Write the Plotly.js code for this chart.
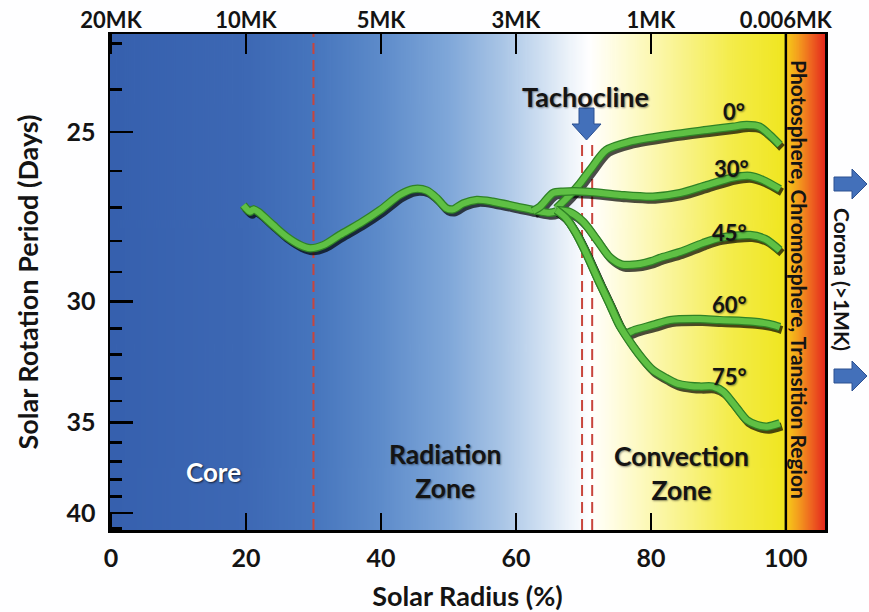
<!DOCTYPE html>
<html><head><meta charset="utf-8">
<script src="https://cdn.plot.ly/plotly-3.0.1.min.js"></script>
<style>html,body{margin:0;padding:0;background:#fff}#chart{width:869px;height:612px}</style>
</head><body><div id="chart"></div>
<script>
// ---------- data (x = solar radius %, P = rotation period in days) ----------
const coreX = [19.6,20.6,21.1,21.8,24.0,26.0,28.0,29.5,31.5,33.9,36.9,39.9,42.8,44.8,46.8,48.3,49.7,50.7,52.2,54.2,56.6,60.1,62.6,65.0,66.0];
const coreP = [26.94,27.13,27.06,27.13,27.52,27.87,28.13,28.23,28.13,27.82,27.47,27.08,26.65,26.49,26.53,26.75,27.03,27.06,26.89,26.79,26.84,26.98,27.08,27.16,27.12];

const lat0X = [66.0,68.0,69.5,71.0,73.4,76.9,82.8,88.3,92.2,94.2,96.1,97.6,99.1];
const lat0P = [27.03,26.65,26.33,25.97,25.45,25.24,25.07,24.95,24.87,24.83,24.87,25.07,25.32];

const lat30X = [62.5,63.6,65.5,67.0,70.5,75.4,80.3,84.3,88.3,92.2,94.7,96.6,99.1];
const lat30P = [27.11,26.98,26.60,26.56,26.56,26.65,26.70,26.60,26.38,26.17,26.13,26.24,26.49];

const lat45X = [66.0,68.0,70.0,72.0,73.9,75.7,78.4,80.1,81.3,84.3,87.7,90.2,94.7,96.9,99.1];
const lat45P = [27.08,27.14,27.43,27.97,28.51,28.75,28.73,28.64,28.54,28.35,28.07,27.91,27.82,27.94,28.29];

const lat60X = [66.0,67.4,68.9,70.2,72.4,73.9,75.4,76.3,77.6,80.3,82.8,87.3,90.2,95.2,97.6,99.1];
const lat60P = [27.08,27.31,27.76,28.29,29.36,30.10,30.90,31.17,31.05,30.86,30.68,30.64,30.68,30.74,30.83,30.94];

const lat75X = [66.0,67.4,68.9,70.2,72.4,73.9,75.4,77.4,78.9,80.3,82.3,83.8,85.8,87.3,89.2,90.7,92.2,94.2,95.7,97.2,99.1];
const lat75P = [27.08,27.31,27.76,28.29,29.36,30.10,30.90,31.70,32.23,32.65,33.00,33.22,33.33,33.36,33.36,33.58,34.11,34.89,35.13,35.21,35.05];

const latLabels = ['0°','30°','45°','60°','75°'];
const xTickVals = [0,20,40,60,80,100];
const xTickText = ['0','20','40','60','80','100'];
const tempTickText = ['20MK','10MK','5MK','3MK','1MK','0.006MK'];
const periodMajor = [25,30,35,40];
const periodMinor = [23,24,26,27,28,29,31,32,33,34,36,37,38,39,41];
const coreBoundary = 30;
const tachocline = [69.8,71.3];
const surface = 100;
const periodRange = [41.1,22.8];   // bottom, top (axis is linear in 1/period)
const radiusRange = [-0.15,105.8];

// ---------- layout geometry ----------
const W = 869, H = 612, ML = 110, MR = 44, MT = 34, MB = 82;
const PW = W-ML-MR, PH = H-MT-MB;
const yR = [1/periodRange[0], 1/periodRange[1]];
const xSpan = radiusRange[1]-radiusRange[0], ySpan = yR[1]-yR[0];
const sdx = 2.2*xSpan/PW, sdy = 3*ySpan/PH;   // shadow offset
const px = v => (v-ML)/PW, py = v => (H-MB-v)/PH;

function gradient(stops){
  const c=document.createElement('canvas'); c.width=1200; c.height=4;
  const g=c.getContext('2d'); const lg=g.createLinearGradient(0,0,1200,0);
  stops.forEach(s=>lg.addColorStop(s[0],s[1])); g.fillStyle=lg; g.fillRect(0,0,1200,4);
  return c.toDataURL('image/png');
}
const bgMain = gradient([[0,'#3660ae'],[0.2,'#3d68b4'],[0.3,'#4675bd'],[0.4,'#5d8bca'],[0.5,'#7fa7d9'],[0.58,'#a9c5e6'],[0.64,'#d0e0f2'],[0.68,'#edf3fa'],[0.71,'#ffffff'],[0.74,'#fffde6'],[0.8,'#fcf8b3'],[0.86,'#f8f27f'],[0.92,'#f4ec4a'],[1,'#f0e61f']]);
const bgBand = gradient([[0,'#f6cc18'],[0.3,'#f4a01d'],[0.65,'#ee6420'],[1,'#e4281d']]);

const FONT = 'Lato, "Open Sans", sans-serif';
const series = [[coreX,coreP],[lat0X,lat0P],[lat30X,lat30P],[lat45X,lat45P],[lat60X,lat60P],[lat75X,lat75P]];
const traces = [];
series.forEach(s=>{
  traces.push({x:s[0], y:s[1].map(p=>1/p), xaxis:'x2', yaxis:'y2', mode:'lines',
    line:{color:'rgba(0,0,0,0.7)', width:8, shape:'spline', smoothing:0.8}, hoverinfo:'skip', showlegend:false});
});
series.forEach(s=>{
  const yy = s[1].map(p=>1/p);
  traces.push({x:s[0], y:yy, xaxis:'x3', yaxis:'y3', mode:'lines',
    line:{color:'#2f8226', width:8.5, shape:'spline', smoothing:0.8}, hoverinfo:'skip', showlegend:false});
  traces.push({x:s[0], y:yy, xaxis:'x3', yaxis:'y3', mode:'lines',
    line:{color:'#5fc044', width:6, shape:'spline', smoothing:0.8}, hoverinfo:'skip', showlegend:false});
});

const dashColor = '#c8453c';
const shapes = [
  {type:'line', xref:'x', yref:'paper', x0:coreBoundary, x1:coreBoundary, y0:0, y1:1, layer:'below', line:{color:dashColor, width:2, dash:'11px,6px'}},
  ...tachocline.map(v=>({type:'line', xref:'x', yref:'paper', x0:v, x1:v, y0:0, y1:py(141), layer:'below', line:{color:dashColor, width:2, dash:'11px,6px'}})),
  {type:'line', xref:'x', yref:'paper', x0:surface, x1:surface, y0:0, y1:1, layer:'above', line:{color:'#000', width:2.5}},
];
function arrowPath(pts){ return 'M'+pts.map(p=>px(p[0])+','+py(p[1])).join(' L')+' Z'; }
const blue = '#4370ba', blueEdge = '#2c5191';
shapes.push({type:'path', xref:'paper', yref:'paper', layer:'above', fillcolor:blue, line:{color:blueEdge,width:1},
  path: arrowPath([[579,108],[594,108],[594,124],[601,124],[586.5,140],[572,124],[579,124]])});
[184,376].forEach(cy=>{
  shapes.push({type:'path', xref:'paper', yref:'paper', layer:'above', fillcolor:blue, line:{color:blueEdge,width:1},
    path: arrowPath([[834,cy-7],[852,cy-7],[852,cy-15],[867,cy],[852,cy+15],[852,cy+7],[834,cy+7]])});
});

const dark = '#141414';
const sh = '1px 1px 2px rgba(0,0,0,0.45)';
const ann = (t,x,y,size,opts={}) => Object.assign({text:t, xref:'paper', yref:'paper', x:px(x), y:py(y), showarrow:false,
  xanchor:'center', yanchor:'middle', font:{family:FONT, size:size, weight:700, color:dark, shadow:sh}}, opts);
const annotations = [
  ann('Core',213,472,26,{font:{family:FONT,size:26,weight:700,color:'#ffffff',shadow:'1px 1px 2px rgba(0,0,0,0.7)'}}),
  ann('Radiation<br>Zone',445,471,26.5,{}),
  ann('Convection<br>Zone',681,473,26.5,{}),
  ann('Tachocline',585,96,27,{}),
  ann(latLabels[0],734,112,22),
  ann(latLabels[1],731,168,22),
  ann(latLabels[2],729,232,22),
  ann(latLabels[3],729,304,22),
  ann(latLabels[4],729,376,22),
  ann('Photosphere, Chromosphere, Transition Region',800,279,21,{textangle:90, font:{family:FONT,size:21,weight:700,color:dark}}),
  ann('Corona (>1MK)',843,279,21,{textangle:90, font:{family:FONT,size:21,weight:700,color:dark}}),
];
annotations.forEach(a=>{a.borderpad=0;});

const tickFont = {family:FONT, size:25, weight:700, color:dark};
const topFont = {family:FONT, size:22, weight:700, color:dark};
const titleFont = {family:FONT, size:27, weight:700, color:dark};
const layout = {
  width:W, height:H, margin:{l:ML, r:MR, t:MT, b:MB}, paper_bgcolor:'#fefeff', plot_bgcolor:'rgba(0,0,0,0)',
  hovermode:false, showlegend:false,
  xaxis:{range:radiusRange, tickmode:'array', tickvals:xTickVals, ticktext:xTickText, ticks:'inside', ticklen:17, tickwidth:2.5, tickcolor:'#000',
    showline:true, linewidth:2.5, linecolor:'#000', mirror:true, showgrid:false, zeroline:false, tickfont:tickFont, ticklabelstandoff:4,
    title:{text:'Solar Radius (%)', font:titleFont, standoff:18}},
  yaxis:{range:yR, tickmode:'array', tickvals:periodMajor.map(p=>1/p), ticktext:periodMajor.map(String), ticks:'inside', ticklen:23, tickwidth:2.5, tickcolor:'#000',
    minor:{tickmode:'array', tickvals:periodMinor.map(p=>1/p), ticks:'inside', ticklen:12, tickwidth:2.5, tickcolor:'#000', showgrid:false},
    showline:true, linewidth:2.5, linecolor:'#000', mirror:true, showgrid:false, zeroline:false, tickfont:tickFont, ticklabelstandoff:7,
    title:{text:'Solar Rotation Period (Days)', font:titleFont, standoff:20}},
  xaxis2:{range:[radiusRange[0]-sdx, radiusRange[1]-sdx], overlaying:'x', visible:false},
  yaxis2:{range:[yR[0]+sdy, yR[1]+sdy], overlaying:'y', visible:false},
  xaxis3:{range:radiusRange, overlaying:'x', side:'top', anchor:'y3', tickmode:'array', tickvals:xTickVals, ticktext:tempTickText,
    ticks:'inside', ticklen:20, tickwidth:2.5, tickcolor:'#000', showline:false, showgrid:false, zeroline:false, tickfont:topFont, ticklabelstandoff:1},
  yaxis3:{range:yR, overlaying:'y', visible:false},
  images:[
    {source:bgMain, xref:'x', yref:'paper', x:radiusRange[0], y:1, sizex:surface-radiusRange[0], sizey:1, sizing:'stretch', xanchor:'left', yanchor:'top', layer:'below'},
    {source:bgBand, xref:'x', yref:'paper', x:surface, y:1, sizex:radiusRange[1]-surface, sizey:1, sizing:'stretch', xanchor:'left', yanchor:'top', layer:'below'}
  ],
  shapes:shapes, annotations:annotations
};
Plotly.newPlot('chart', traces, layout, {staticPlot:true, displayModeBar:false});
</script></body></html>
